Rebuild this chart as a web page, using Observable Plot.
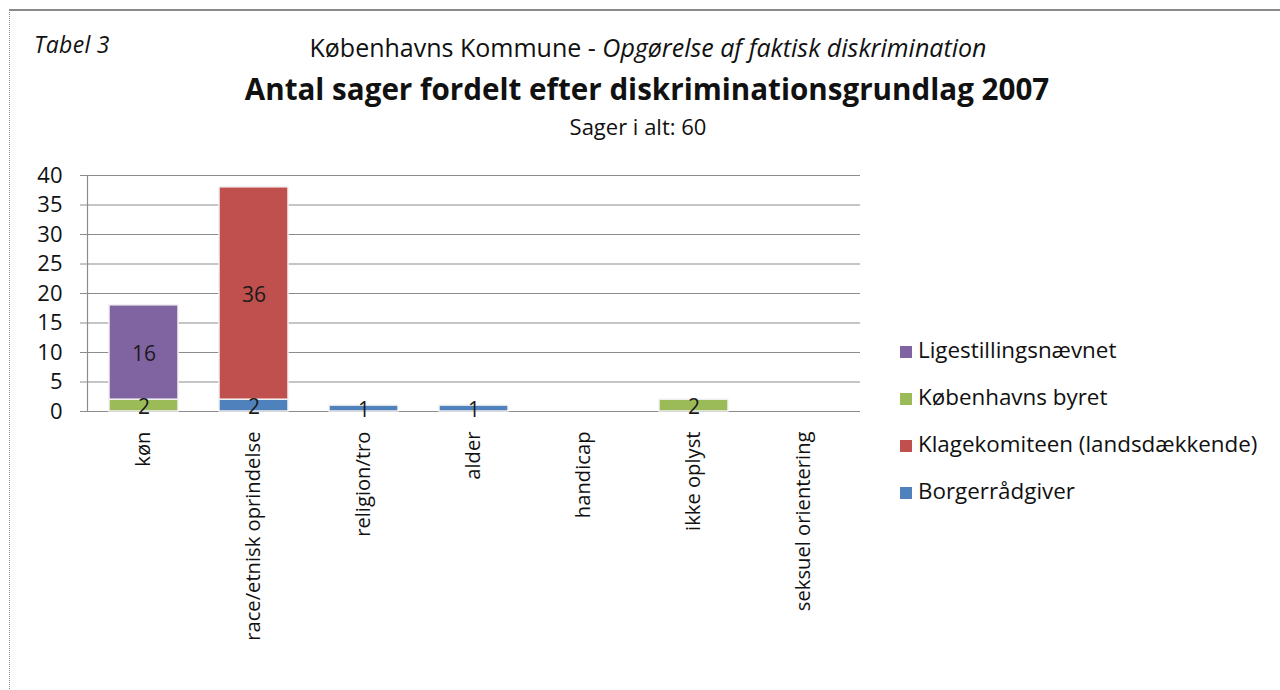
<!DOCTYPE html>
<html>
<head>
<meta charset="utf-8">
<script src="https://cdn.jsdelivr.net/npm/d3@7"></script>
<script src="https://cdn.jsdelivr.net/npm/@observablehq/plot@0.6"></script>
<style>
  html, body { margin: 0; padding: 0; background: #fff; }
  body { width: 1280px; height: 690px; overflow: hidden; position: relative; font-family: "Open Sans", sans-serif; color: #111; }
  #frame { position: absolute; left: 9px; top: 9px; width: 1290px; height: 720px; border-left: 1px dotted #8a8a8a; border-top: 2px solid #8a8a8a; }
  .hdr { position: absolute; white-space: nowrap; line-height: 1; }
  #tabel { left: 34px; top: 33px; font-size: 23px; font-style: italic; letter-spacing: 0.3px; }
  #sub { left: 0; width: 1296px; text-align: center; top: 35px; font-size: 25px; }
  #title { left: 0; width: 1294px; text-align: center; top: 74px; font-size: 29.6px; font-weight: bold; }
  #total { left: 0; width: 1276px; text-align: center; top: 115px; font-size: 22px; }
  #chart { position: absolute; left: 0; top: 150px; }
  #legend { position: absolute; left: 900px; top: 337px; font-size: 22.4px; line-height: 1.2; }
  #legend div { height: 47px; display: flex; align-items: flex-start; }
  #legend span.sw { display: inline-block; width: 12px; height: 12px; margin-right: 6px; margin-top: 9px; }
</style>
</head>
<body>
<div id="frame"></div>
<div class="hdr" id="tabel">Tabel 3</div>
<div class="hdr" id="sub">Københavns Kommune - <i>Opgørelse af faktisk diskrimination</i></div>
<div class="hdr" id="title">Antal sager fordelt efter diskriminationsgrundlag 2007</div>
<div class="hdr" id="total">Sager i alt: 60</div>
<div id="chart"></div>
<div id="legend"></div>
<script>
const categories = ["køn", "race/etnisk oprindelse", "religion/tro", "alder", "handicap", "ikke oplyst", "seksuel orientering"];
const seriesNames = ["Borgerrådgiver", "Københavns byret", "Klagekomiteen (landsdækkende)", "Ligestillingsnævnet"];
const seriesColors = ["#4F81BD", "#9BBB59", "#C0504D", "#8064A2"];
const legendOrder = ["Ligestillingsnævnet", "Københavns byret", "Klagekomiteen (landsdækkende)", "Borgerrådgiver"];
const borgerraadgiver = [0, 2, 1, 1, 0, 0, 0];
const byret = [2, 0, 0, 0, 0, 2, 0];
const klagekomiteen = [0, 36, 0, 0, 0, 0, 0];
const ligestilling = [16, 0, 0, 0, 0, 0, 0];
const yTicks = [0, 5, 10, 15, 20, 25, 30, 35, 40];

const seriesValues = [borgerraadgiver, byret, klagekomiteen, ligestilling];
const data = [];
seriesNames.forEach((s, i) => {
  categories.forEach((c, j) => {
    if (seriesValues[i][j] > 0) data.push({cat: c, series: s, value: seriesValues[i][j]});
  });
});

const W = 1280, H = 540;
const plot = Plot.plot({
  width: W,
  height: H,
  marginLeft: 87,
  marginRight: 420,
  marginTop: 25,
  marginBottom: 279,
  style: { fontFamily: "'Open Sans', sans-serif", fontSize: "18px", color: "#111", background: "transparent" },
  x: { domain: categories, paddingInner: 0.37, paddingOuter: 0.185, label: null },
  y: { domain: [0, 40], label: null },
  color: { domain: seriesNames, range: seriesColors },
  marks: [
    Plot.ruleY(yTicks, { stroke: "#8c8c8c", strokeWidth: 1.2 }),
    Plot.frame({ anchor: "left", stroke: "#8c8c8c", strokeWidth: 1.2 }),
    Plot.axisY({ ticks: yTicks, tickSize: 7, tickPadding: 18, stroke: "#8c8c8c", fontSize: 22, label: null }),
    Plot.axisX({ tickSize: 0, tickPadding: 20, tickRotate: -90, fontSize: 20.2, label: null }),
    Plot.barY(data, Plot.stackY({ x: "cat", y: "value", fill: "series", order: seriesNames, stroke: "#f2f2f2", strokeWidth: 1.5 })),
    Plot.text(data, Plot.stackY({ x: "cat", y: "value", z: "series", order: seriesNames, text: d => String(d.value), fill: "#1a1a1a", fontSize: 21, dy: 2 }))
  ]
});
document.getElementById("chart").appendChild(plot);

const legend = document.getElementById("legend");
legendOrder.forEach(name => {
  const i = seriesNames.indexOf(name);
  const row = document.createElement("div");
  const sw = document.createElement("span");
  sw.className = "sw";
  sw.style.background = seriesColors[i];
  const t = document.createElement("span");
  t.textContent = name;
  row.appendChild(sw);
  row.appendChild(t);
  legend.appendChild(row);
});
</script>
</body>
</html>
